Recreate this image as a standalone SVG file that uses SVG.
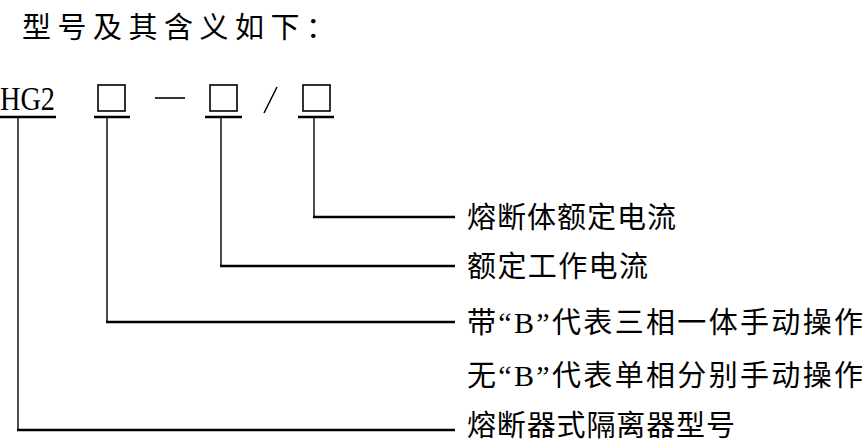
<svg xmlns="http://www.w3.org/2000/svg" width="864" height="443" viewBox="0 0 864 443">
<style>
.cjk{font-family:"Noto Sans CJK SC","Noto Sans CJK JP",sans-serif;font-size:29px;fill:#000}
.ser{font-family:"Liberation Serif",serif;fill:#000}
.box{fill:none;stroke:#000;stroke-width:1.6}
.ul{stroke:#000;stroke-width:2.6;fill:none}
.v{stroke:#000;stroke-width:1.4;fill:none}
.h{stroke:#000;stroke-width:2.6;fill:none}
</style>
<rect width="864" height="443" fill="#fff"/>
<g id="title"><text class="cjk" x="22" y="38" font-size="34" textLength="313" lengthAdjust="spacing">型号及其含义如下：</text></g>
<g id="code-hg2"><text class="ser" x="0" y="110" font-size="33" textLength="55" lengthAdjust="spacingAndGlyphs">HG2</text><line class="ul" x1="0" y1="117" x2="56" y2="117"/></g>
<g id="code-box1"><rect class="box" x="98" y="85" width="27" height="26"/><line class="ul" x1="94" y1="117" x2="130" y2="117"/></g>
<g id="dash"><line stroke="#000" stroke-width="1.6" x1="155" y1="98" x2="185" y2="98"/></g>
<g id="code-box2"><rect class="box" x="210" y="85" width="27" height="26"/><line class="ul" x1="205" y1="117" x2="242" y2="117"/></g>
<g id="slash"><line stroke="#000" stroke-width="1.6" x1="277" y1="87" x2="264" y2="113"/></g>
<g id="code-box3"><rect class="box" x="303" y="85" width="27" height="26"/><line class="ul" x1="298" y1="117" x2="334" y2="117"/></g>
<g id="connectors">
<polyline class="v" points="314,118 314,217"/><line class="h" x1="313" y1="217" x2="455" y2="217"/>
<polyline class="v" points="221,118 221,266"/><line class="h" x1="220" y1="266" x2="455" y2="266"/>
<polyline class="v" points="107,118 107,322"/><line class="h" x1="106" y1="322" x2="455" y2="322"/>
<polyline class="v" points="18,118 18,430"/><line class="h" x1="17" y1="430" x2="455" y2="430"/>
</g>
<g id="label1"><text class="cjk" x="467" y="228" textLength="209" lengthAdjust="spacing">熔断体额定电流</text></g>
<g id="label2"><text class="cjk" x="467" y="277" textLength="181" lengthAdjust="spacing">额定工作电流</text></g>
<g id="label3"><text class="cjk" x="467" y="333" textLength="396" lengthAdjust="spacing">带<tspan class="ser" font-size="30">“B”</tspan>代表三相一体手动操作</text></g>
<g id="label4"><text class="cjk" x="467" y="386" textLength="396" lengthAdjust="spacing">无<tspan class="ser" font-size="30">“B”</tspan>代表单相分别手动操作</text></g>
<g id="label5"><text class="cjk" x="467" y="436" textLength="268" lengthAdjust="spacing">熔断器式隔离器型号</text></g>
</svg>
